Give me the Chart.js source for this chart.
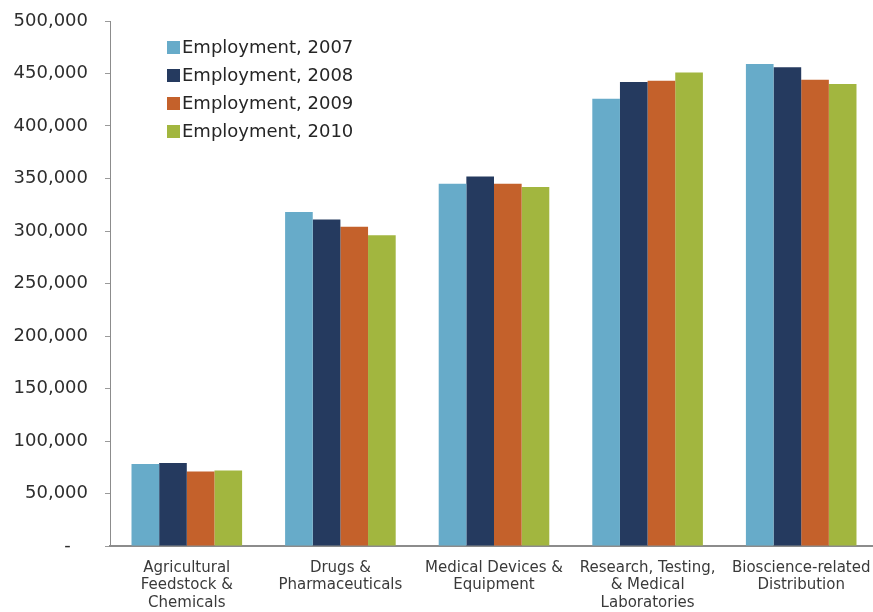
<!DOCTYPE html>
<html>
<head>
<meta charset="utf-8">
<script src="https://cdn.jsdelivr.net/npm/chart.js@4/dist/chart.umd.min.js"></script>
<style>
  html, body { margin: 0; padding: 0; background: #ffffff; overflow: hidden; }
  #wrap { width: 878px; height: 612px; }
</style>
</head>
<body>
<div id="wrap"><canvas id="chart" width="878" height="612"></canvas></div>
<script>
// Bioscience employment by industry segment, 2007-2010
const categories = [
  ['Agricultural', 'Feedstock &', 'Chemicals'],
  ['Drugs &', 'Pharmaceuticals'],
  ['Medical Devices &', 'Equipment'],
  ['Research, Testing,', '& Medical', 'Laboratories'],
  ['Bioscience-related', 'Distribution']
];
const seriesNames = ['Employment, 2007', 'Employment, 2008', 'Employment, 2009', 'Employment, 2010'];
const employment2007 = [78000, 318000, 345000, 426000, 459000];
const employment2008 = [79000, 311000, 352000, 442000, 456000];
const employment2009 = [71000, 304000, 345000, 443000, 444000];
const employment2010 = [72000, 296000, 342000, 451000, 440000];
const yTickValues = [0, 50000, 100000, 150000, 200000, 250000, 300000, 350000, 400000, 450000, 500000];

const seriesColors = ['#67abc9', '#253a5f', '#c4612b', '#a2b63f'];
const FONT = "'DejaVu Sans', Verdana, sans-serif";

// Legend drawn inside the plot area, top-left
const insideLegend = {
  id: 'insideLegend',
  afterDraw(chart) {
    const { ctx, chartArea } = chart;
    const x0 = chartArea.left + 57;
    const y0 = chartArea.top + 26;
    const rowH = 28;
    ctx.save();
    ctx.font = '18px ' + FONT;
    ctx.textBaseline = 'middle';
    ctx.textAlign = 'left';
    chart.data.datasets.forEach((ds, i) => {
      const y = y0 + i * rowH;
      ctx.fillStyle = ds.backgroundColor;
      ctx.fillRect(x0, y - 6, 13, 13);
      ctx.fillStyle = '#262626';
      ctx.fillText(ds.label, x0 + 15, y + 1);
    });
    ctx.restore();
  }
};

const seriesValues = [employment2007, employment2008, employment2009, employment2010];

new Chart(document.getElementById('chart'), {
  type: 'bar',
  data: {
    labels: categories,
    datasets: seriesValues.map((vals, i) => ({
      label: seriesNames[i],
      data: vals,
      backgroundColor: seriesColors[i],
      borderWidth: 0,
      categoryPercentage: 0.72,
      barPercentage: 1.0
    }))
  },
  options: {
    responsive: false,
    animation: false,
    layout: { padding: { top: 21, right: 0, left: 0, bottom: 0 } },
    plugins: {
      legend: { display: false },
      tooltip: { enabled: false }
    },
    scales: {
      x: {
        grid: { display: false },
        border: { display: true, color: '#8c8c8c', width: 2 },
        ticks: {
          color: '#3a3a3a',
          font: { family: FONT, size: 15, lineHeight: 1.18 },
          maxRotation: 0,
          autoSkip: false,
          padding: 5
        },
        afterFit(scale) {
          scale.height = 66;
          scale.paddingLeft = 0;
          scale.paddingRight = 0;
        }
      },
      y: {
        min: 0,
        max: 500000,
        afterBuildTicks(scale) { scale.ticks = yTickValues.map(v => ({ value: v })); },
        grid: {
          drawOnChartArea: false,
          drawTicks: true,
          tickLength: 5,
          color: '#9a9a9a'
        },
        border: { display: true, color: '#8c8c8c', width: 1 },
        ticks: {
          color: '#2e2e2e',
          font: { family: FONT, size: 18 },
          padding: 17,
          callback(value) {
            return value === 0 ? '-\u00a0\u00a0\u00a0' : value.toLocaleString('en-US');
          }
        },
        afterFit(scale) {
          scale.width = 110;
          scale.paddingTop = 0;
          scale.paddingBottom = 0;
        }
      }
    }
  },
  plugins: [insideLegend]
});
</script>
</body>
</html>
